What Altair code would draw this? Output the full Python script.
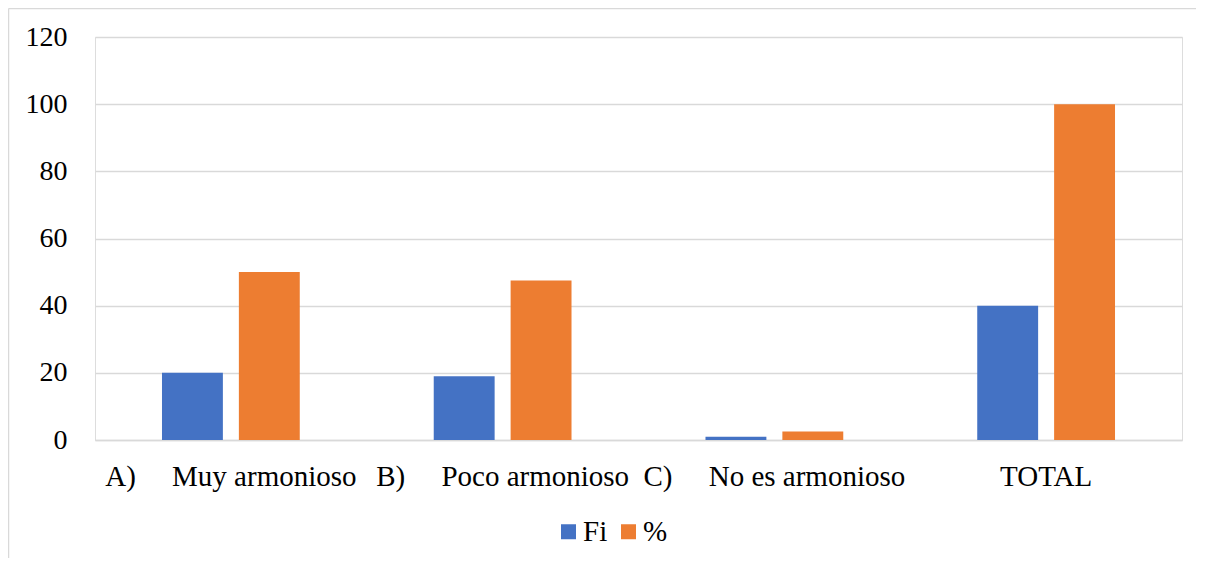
import altair as alt
import pandas as pd

NB = "\u00a0" * 5
categories = ["A)" + NB + "Muy armonioso", "B)" + NB + "Poco armonioso", "C)" + NB + "No es armonioso", "TOTAL"]
series = ["Fi", "%"]
fi_values = [20, 19, 1, 40]
pct_values = [50, 47.5, 2.5, 100]
y_ticks = [0, 20, 40, 60, 80, 100, 120]

rows = []
for c, f, p in zip(categories, fi_values, pct_values):
    rows.append({"categoria": c, "serie": "Fi", "valor": f})
    rows.append({"categoria": c, "serie": "%", "valor": p})
df = pd.DataFrame(rows)

W, H = 1087, 403
FONT = "Liberation Serif"
GRID = "#D9D9D9"

bars = alt.Chart(df).mark_bar().encode(
    x=alt.X("categoria:N", sort=categories, title=None,
            scale=alt.Scale(paddingInner=0.493, paddingOuter=0.2465),
            axis=alt.Axis(labelAngle=0, labelFontSize=29, labelFont=FONT, labelColor="black",
                          labelPadding=22, ticks=False, domainColor=GRID, domainWidth=1.3,
                          labelBaseline="top", labelLimit=1000, labelOverlap=False)),
    xOffset=alt.XOffset("serie:N", sort=series,
                        scale=alt.Scale(paddingInner=0.208, paddingOuter=0)),
    y=alt.Y("valor:Q", title=None,
            scale=alt.Scale(domain=[0, 120], nice=False),
            axis=alt.Axis(values=y_ticks, labelFontSize=28, labelFont=FONT, labelColor="black",
                          labelPadding=28, ticks=False, domain=False, gridColor=GRID, gridWidth=1.3)),
    color=alt.Color("serie:N", sort=series, title=None,
                    scale=alt.Scale(domain=series, range=["#4472C4", "#ED7D31"]),
                    legend=alt.Legend(orient="none", legendX=459, legendY=480, direction="horizontal",
                                      symbolType="square", symbolSize=225, symbolStrokeWidth=0,
                                      labelFontSize=29, labelFont=FONT, labelColor="black",
                                      labelOffset=0, columnPadding=6, padding=0)),
)

border_data = alt.Data(values=[{"k": 1}])
top_line = alt.Chart(border_data).mark_rule(color=GRID, strokeWidth=1.5).encode(
    x=alt.value(-86.5), x2=alt.value(W + 40), y=alt.value(-28.5))
left_line = alt.Chart(border_data).mark_rule(color=GRID, strokeWidth=1.5).encode(
    x=alt.value(-86.5), y=alt.value(-28.5), y2=alt.value(H + 200))

chart = alt.layer(top_line, left_line, bars).properties(
    width=W, height=H,
    autosize=alt.AutoSizeParams(type="none"),
    padding={"left": 87, "top": 29, "right": 14, "bottom": 118},
).configure_view(stroke=None).configure(background="white")

chart.save("out.html", embed_options={"renderer": "svg", "actions": False})
